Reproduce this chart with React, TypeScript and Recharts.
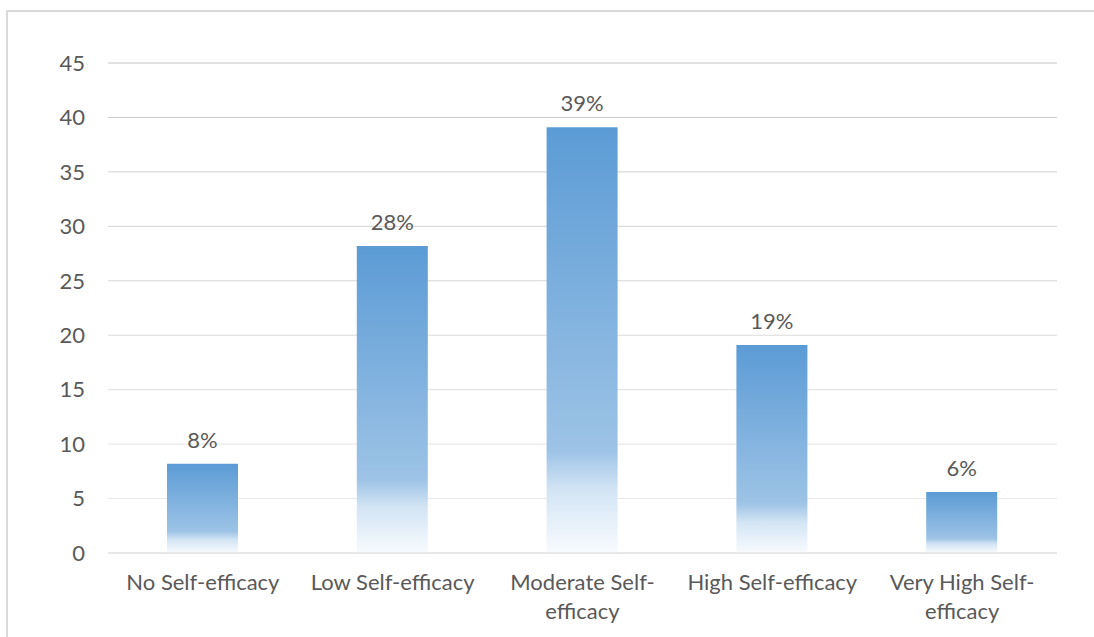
import React from 'react';
import { BarChart, Bar, XAxis, YAxis, CartesianGrid, LabelList } from 'recharts';

const categories = ['No Self-efficacy', 'Low Self-efficacy', 'Moderate Self-efficacy', 'High Self-efficacy', 'Very High Self-efficacy'];
// how the category names wrap under the axis
const categoryLines = [
  ['No Self-efficacy'],
  ['Low Self-efficacy'],
  ['Moderate Self-', 'efficacy'],
  ['High Self-efficacy'],
  ['Very High Self-', 'efficacy'],
];
const values = [8.2, 28.2, 39.1, 19.1, 5.6];
const percentLabels = ['8%', '28%', '39%', '19%', '6%'];
const yTicks = [0, 5, 10, 15, 20, 25, 30, 35, 40, 45];

const FONT = 'Lato, "Open Sans", sans-serif';
const TEXT = '#595959';
const FONT_SIZE = 22;

const chartData = categories.map((name, i) => ({
  name,
  value: values[i],
  label: percentLabels[i],
}));

const CategoryTick = (props: any) => {
  const { x, y, payload } = props;
  const lines = categoryLines[payload.index] || [payload.value];
  return (
    <text x={x} y={y + 37} textAnchor="middle" fill={TEXT} fontSize={FONT_SIZE} fontFamily={FONT}>
      {lines.map((line, i) => (
        <tspan key={i} x={x} dy={i === 0 ? 0 : 29}>
          {line}
        </tspan>
      ))}
    </text>
  );
};

export default function App() {
  return (
    <div style={{ position: 'absolute', left: 0, top: 0, width: 1094, height: 637, overflow: 'hidden', background: '#fff' }}>
      {/* chart frame: only the top and left edges are in view */}
      <div
        style={{
          position: 'absolute',
          left: 6,
          top: 10,
          width: 1088,
          height: 627,
          borderTop: '2px solid #D9D9D9',
          borderLeft: '2px solid #D9D9D9',
          boxSizing: 'border-box',
        }}
      />
      <div style={{ position: 'absolute', left: 0, top: 0 }}>
        <BarChart
          width={1094}
          height={637}
          data={chartData}
          margin={{ top: 63, right: 37, left: 0, bottom: 0 }}
        >
          <defs>
            <linearGradient id="barFill" x1="0" y1="0" x2="0" y2="1">
              <stop offset="0%" stopColor="#5B9BD5" />
              <stop offset="76%" stopColor="#9DC3E6" />
              <stop offset="85%" stopColor="#D2E4F4" />
              <stop offset="100%" stopColor="#F8FBFE" />
            </linearGradient>
            <linearGradient id="gridStroke" gradientUnits="userSpaceOnUse" x1="0" y1="63" x2="0" y2="553">
              <stop offset="0%" stopColor="#C6C6C6" />
              <stop offset="100%" stopColor="#ECECEC" />
            </linearGradient>
          </defs>
          <CartesianGrid vertical={false} stroke="url(#gridStroke)" />
          <XAxis
            dataKey="name"
            height={84}
            axisLine={{ stroke: '#D9D9D9' }}
            tickLine={false}
            tickSize={0}
            tickMargin={0}
            interval={0}
            tick={<CategoryTick />}
          />
          <YAxis
            width={108}
            domain={[0, 45]}
            ticks={yTicks}
            axisLine={false}
            tickLine={false}
            tickSize={0}
            tickMargin={23}
            tick={{ fill: TEXT, fontSize: FONT_SIZE, fontFamily: FONT }}
          />
          <Bar dataKey="value" fill="url(#barFill)" barSize={71} isAnimationActive={false}>
            <LabelList
              dataKey="label"
              position="top"
              offset={16}
              fill={TEXT}
              fontSize={FONT_SIZE}
              fontFamily={FONT}
            />
          </Bar>
        </BarChart>
      </div>
    </div>
  );
}
